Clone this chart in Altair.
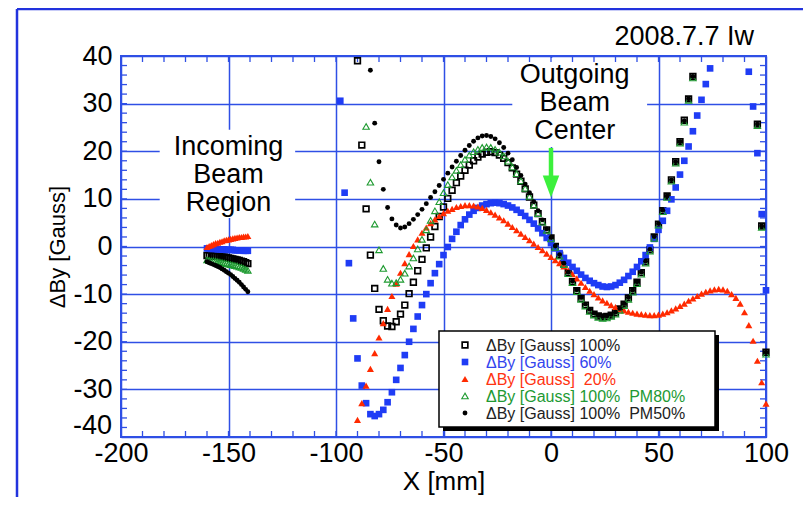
import altair as alt
import pandas as pd

# ---------------- data ----------------
X_MAIN = [-100, -98, -96, -94, -92, -90, -88, -86, -84, -82, -80, -78, -76, -74, -72, -70,
          -68, -66, -64, -62, -60, -58, -56, -54, -52, -50, -48, -46, -44, -42, -40, -38,
          -36, -34, -32, -30, -28, -26, -24, -22, -20, -18, -16, -14, -12, -10, -8, -6,
          -4, -2, 0, 2, 4, 6, 8, 10, 12, 14, 16, 18, 20, 22, 24, 26, 28, 30, 32, 34, 36,
          38, 40, 42, 44, 46, 48, 50, 52, 54, 56, 58, 60, 62, 64, 66, 68, 70, 72, 74, 76,
          78, 80, 82, 84, 86, 88, 90, 92, 94, 96, 98, 100]
N = None
Y_100 = [N, N, N, N, N, 39.0, 21.3, 7.9, -1.8, -8.8, -13.2, -15.6, -16.7, -16.8, -15.8, -14.2,
         -12.3, -9.9, -7.5, -5.1, -2.7, -0.3, 2.0, 4.2, 6.3, 8.3, 10.1, 11.8, 13.4, 14.8, 16.0, 17.1,
         18.0, 18.8, 19.4, 19.8, 19.9, 19.7, 19.2, 18.5, 17.6, 16.5, 15.2, 13.7, 12.1, 10.4, 8.7, 6.9,
         5.2, 3.5, 1.8, 0.0, -1.8, -3.6, -5.5, -7.4, -9.3, -10.9, -12.3, -13.4, -14.2, -14.6, -14.8,
         -14.7, -14.4, -13.9, -13.1, -12.1, -10.8, -9.3, -7.5, -5.5, -3.2, -0.7, 2.0, 4.7, 7.5, 10.6,
         14.0, 17.8, 22.0, 26.5, 31.0, 35.7, N, N, N, N, N, N, N, N, N, N, N, N, N, N, 25.7, 4.3, -22.2]
Y_60 = [N, 30.6, 11.3, -3.5, -15.1, -23.5, -29.2, -32.9, -35.2, -35.6, -35.2, -34.3, -32.7, -30.6,
        -28.0, -25.5, -22.8, -20.0, -17.3, -14.7, -12.3, -10.0, -7.7, -5.6, -3.7, -1.8, -0.1, 1.6,
        3.1, 4.5, 5.7, 6.7, 7.5, 8.1, 8.6, 8.9, 9.1, 9.2, 9.1, 8.9, 8.6, 8.2, 7.7, 7.1, 6.4, 5.6,
        4.8, 3.8, 2.8, 1.8, 0.7, -0.4, -1.4, -2.4, -3.4, -4.3, -5.1, -5.9, -6.6, -7.2, -7.7, -8.1,
        -8.4, -8.5, -8.4, -8.1, -7.6, -7.0, -6.2, -5.3, -4.3, -3.1, -1.8, -0.2, 1.6, 3.5, 5.4, 7.5,
        9.9, 12.4, 15.1, 18.0, 21.0, 24.2, 27.5, 30.8, 34.1, 37.4, N, N, N, N, N, N, N, N,
        36.7, 29.4, 19.6, 6.8, -9.2]
Y_20 = [N, N, N, N, N, -36.4, -32.9, -29.2, -25.7, -22.4, -19.1, -16.1, -13.1, -10.4, -7.8, -5.5,
        -3.5, -1.6, 0.1, 1.5, 2.9, 4.0, 4.9, 5.7, 6.4, 7.0, 7.5, 7.9, 8.3, 8.5, 8.7, 8.7, 8.6, 8.4,
        8.1, 7.7, 7.2, 6.7, 6.1, 5.5, 4.8, 4.1, 3.4, 2.7, 2.0, 1.3, 0.6, -0.1, -0.8, -1.5, -2.2,
        -2.9, -3.5, -4.2, -5.0, -5.8, -6.7, -7.6, -8.5, -9.3, -10.0, -10.7, -11.3, -11.8, -12.3,
        -12.7, -13.1, -13.4, -13.7, -13.9, -14.1, -14.2, -14.3, -14.4, -14.4, -14.3, -14.1, -13.8,
        -13.4, -13.0, -12.5, -12.0, -11.4, -10.9, -10.4, -9.9, -9.5, -9.2, -9.0, -8.9, -9.0, -9.3,
        -10.0, -10.8, -12.0, -13.8, -16.5, -19.8, -24.0, -28.5, -33.0]
Y_PM80 = [N, N, N, N, N, N, N, 25.2, 13.5, 4.7, -0.7, -4.6, -6.9, -7.7, -7.6, -6.9, -5.6, -4.1,
          -2.4, -0.5, 1.5, 3.5, 5.5, 7.5, 9.4, 11.3, 13.0, 14.6, 16.0, 17.2, 18.3, 19.2, 19.9, 20.4,
          20.8, 20.9, 20.8, 20.4, 19.8, 19.0, 17.9, 16.7, 15.3, 13.8, 12.2, 10.5, 8.7, 6.9, 5.1, 3.4,
          1.6, -0.2, -2.0, -3.8, -5.7, -7.6, -9.5, -11.1, -12.5, -13.6, -14.4, -14.9, -15.1, -15.0,
          -14.7, -14.2, -13.4, -12.4, -11.1, -9.6, -7.8, -5.8, -3.5, -1.0, 1.7, 4.5, 7.3, 10.3, 13.7,
          17.5, 21.7, 26.1, 30.7, 35.4, N, N, N, N, N, N, N, N, N, N, N, N, N, N, 25.4, 4.0, -22.6]
Y_PM50 = [N, N, N, N, N, N, N, N, 37.0, 25.9, 17.8, 12.0, 8.2, 5.8, 4.5, 3.9, 4.1, 4.8, 5.7, 6.7,
          7.8, 9.0, 10.3, 11.5, 12.8, 14.1, 15.4, 16.7, 17.9, 19.1, 20.2, 21.2, 22.1, 22.8, 23.2,
          23.3, 23.1, 22.6, 21.8, 20.8, 19.6, 18.2, 16.6, 14.9, 13.1, 11.3, 9.4, 7.5, 5.6, 3.7, 1.9,
          0.1, -1.7, -3.5, -5.4, -7.3, -9.1, -10.7, -12.1, -13.2, -14.0, -14.5, -14.7, -14.6, -14.3,
          -13.8, -13.0, -12.0, -10.7, -9.2, -7.4, -5.4, -3.1, -0.6, 2.1, 4.8, 7.6, 10.6, 14.0, 17.8,
          22.0, 26.4, 31.0, 35.7, N, N, N, N, N, N, N, N, N, N, N, N, N, N, 25.7, 4.3, -22.2]

# incoming beam region
X_IN = [-160, -159, -158, -157, -156, -155, -154, -153, -152, -151,
        -150, -149, -148, -147, -146, -145, -144, -143, -142, -141]
IN_100 = [-1.9, -1.9, -2.0, -2.0, -2.0, -2.1, -2.1, -2.2, -2.2, -2.3,
          -2.4, -2.5, -2.6, -2.7, -2.8, -2.9, -3.1, -3.2, -3.4, -3.6]
IN_60 = [-0.4, -0.4, -0.5, -0.5, -0.5, -0.6, -0.6, -0.6, -0.6, -0.7,
         -0.7, -0.7, -0.7, -0.8, -0.8, -0.8, -0.8, -0.9, -0.9, -0.9]
IN_20 = [-0.1, 0.1, 0.3, 0.5, 0.7, 0.8, 1.0, 1.1, 1.3, 1.4,
         1.5, 1.6, 1.7, 1.8, 1.9, 2.0, 2.0, 2.1, 2.1, 2.2]
IN_PM80 = [-2.8, -2.9, -3.0, -3.0, -3.1, -3.2, -3.3, -3.4, -3.5, -3.6,
           -3.7, -3.8, -3.9, -4.0, -4.1, -4.3, -4.4, -4.6, -4.8, -5.0]
IN_PM50 = [-3.2, -3.4, -3.6, -3.8, -4.0, -4.2, -4.4, -4.7, -5.0, -5.3,
           -5.6, -5.9, -6.3, -6.7, -7.1, -7.5, -8.0, -8.5, -9.0, -9.5]

SERIES = ["100", "60", "20", "PM80", "PM50"]
LEGEND_TEXT = ["ΔBy [Gauss] 100%", "ΔBy [Gauss] 60%", "ΔBy [Gauss]\u00a0\u00a020%",
               "ΔBy [Gauss] 100%\u00a0\u00a0PM80%", "ΔBy [Gauss] 100%\u00a0\u00a0PM50%"]

X_TICKS = [-200, -150, -100, -50, 0, 50, 100]
Y_TICKS = [-40, -30, -20, -10, 0, 10, 20, 30, 40]
Y_LABELED = [-30, -20, -10, 0, 10, 20, 30, 40]
X_MINOR = list(range(-190, 100, 10))
Y_MINOR = list(range(-38, 40, 2))

ANNOT_TEXT = ["Incoming", "Beam", "Region", "Outgoing", "Beam", "Center", "2008.7.7 Iw"]
ANNOT_X = [-150, -150, -150, 11, 11, 11, 62]
ANNOT_Y = [19.2, 13.4, 7.5, 34.3, 28.5, 22.6, 42.3]

# ---------------- styling ----------------
FONT = "Liberation Sans"
GRID = "#2f4fe5"
BLUE = "#1f3cf5"
RED = "#ff2a00"
GREEN = "#1e9a30"
ARROW = "#3cf03c"
W, H = 645, 381

main_y = dict(zip(SERIES, [Y_100, Y_60, Y_20, Y_PM80, Y_PM50]))
in_y = dict(zip(SERIES, [IN_100, IN_60, IN_20, IN_PM80, IN_PM50]))
rows = []
for s in SERIES:
    for xv, yv in zip(X_MAIN, main_y[s]):
        if yv is not None:
            rows.append({"x": xv, "y": yv, "s": s})
    for xv, yv in zip(X_IN, in_y[s]):
        rows.append({"x": xv, "y": yv, "s": s})
df = pd.DataFrame(rows)

xs = alt.Scale(domain=[-200, 100], nice=False, zero=False)
ysc = alt.Scale(domain=[-40, 40], nice=False, zero=False)

x_axis = alt.Axis(values=X_TICKS, grid=True, gridColor=GRID, gridWidth=1.5, gridOpacity=1,
                  ticks=False, tickSize=0, domain=False, labelFontSize=27, labelColor="black",
                  labelFont=FONT, labelPadding=3, labelFlush=False, labelOverlap=False,
                  labelExpr="'' + datum.value", title="X [mm]", titleFontSize=26,
                  titleFont=FONT, titleFontWeight="normal", titleColor="black", titlePadding=2)
y_axis = alt.Axis(values=Y_TICKS, grid=True, gridColor=GRID, gridWidth=1.5, gridOpacity=1,
                  ticks=False, tickSize=0, domain=False, labelFontSize=27, labelColor="black",
                  labelFont=FONT, labelPadding=9, labelFlush=False, labelOverlap=False,
                  labelExpr="datum.value == -40 ? '' : '' + datum.value",
                  title="ΔBy [Gauss]", titleFontSize=22,
                  titleFont=FONT, titleFontWeight="normal", titleColor="black", titlePadding=3)


def X(f):
    return alt.X(f"{f}:Q", scale=xs, axis=x_axis)


def Y(f):
    return alt.Y(f"{f}:Q", scale=ysc, axis=y_axis)


layers = []

# white boxes behind annotation text (interrupt grid lines)
boxes = pd.DataFrame({"x": [-182, -18], "x2": [-119, 44.7], "y": [24.5, 39.6], "y2": [6.0, 20.9]})
layers.append(alt.Chart(boxes).mark_rect(color="white", opacity=1).encode(
    x=X("x"), x2="x2:Q", y=Y("y"), y2="y2:Q"))

# minor ticks
xt = pd.DataFrame({"t": X_MINOR})
yt = pd.DataFrame({"t": Y_MINOR})
for a, b in [(0, 6), (H, H - 6)]:
    layers.append(alt.Chart(xt).mark_rule(color=GRID, strokeWidth=1.3).encode(
        x=X("t"), y=alt.value(a), y2=alt.value(b)))
for a, b in [(0, 6), (W, W - 6)]:
    layers.append(alt.Chart(yt).mark_rule(color=GRID, strokeWidth=1.3).encode(
        y=Y("t"), x=alt.value(a), x2=alt.value(b)))

# bottom y label placed just above the x labels
lab = pd.DataFrame({"y": [-40], "t": ["-40"]})
layers.append(alt.Chart(lab).mark_text(align="right", baseline="bottom", font=FONT, fontSize=27,
                                       color="black", dy=3).encode(
    x=alt.value(-9), y=Y("y"), text="t:N"))

STYLE = {
    "100": dict(shape="square", size=32, filled=False, color="black", strokeWidth=1.7),
    "60": dict(shape="square", size=44, filled=True, color=BLUE),
    "20": dict(shape="triangle-up", size=50, filled=True, color=RED),
    "PM80": dict(shape="triangle-up", size=42, filled=False, color=GREEN, strokeWidth=1.1),
    "PM50": dict(shape="circle", size=24, filled=True, color="black"),
}
for s in SERIES:
    layers.append(alt.Chart(df).transform_filter(alt.datum.s == s).mark_point(
        opacity=1, **STYLE[s]).encode(x=X("x"), y=Y("y")))

# legend box
one = pd.DataFrame({"a": [0]})
layers.append(alt.Chart(one).mark_rect(color="black").encode(
    x=alt.value(322), x2=alt.value(598), y=alt.value(279), y2=alt.value(375)))
layers.append(alt.Chart(one).mark_rect(fill="white", stroke="black", strokeWidth=1.5).encode(
    x=alt.value(318), x2=alt.value(594), y=alt.value(275), y2=alt.value(371)))
TEXT_COL = ["#222222", "#3344ee", "#ff3311", "#229933", "#222222"]
for i, s in enumerate(SERIES):
    ry = 289.0 + 17.0 * i
    layers.append(alt.Chart(one).mark_point(opacity=1, **STYLE[s]).encode(
        x=alt.value(344), y=alt.value(ry)))
    layers.append(alt.Chart(one).mark_text(text=LEGEND_TEXT[i], align="left", baseline="middle",
                                           font=FONT, fontSize=16, color=TEXT_COL[i]).encode(
        x=alt.value(365), y=alt.value(ry + 1)))

# annotation texts
ann = pd.DataFrame({"x": ANNOT_X, "y": ANNOT_Y, "t": ANNOT_TEXT})
layers.append(alt.Chart(ann).mark_text(align="center", baseline="alphabetic", font=FONT,
                                       fontSize=27, color="black").encode(
    x=X("x"), y=Y("y"), text="t:N"))

# green arrow
arr = pd.DataFrame({"x": [0], "y": [20.7], "y2": [14.2], "yh": [12.6]})
layers.append(alt.Chart(arr).mark_rule(color=ARROW, strokeWidth=4.5).encode(
    x=X("x"), y=Y("y"), y2="y2:Q"))
layers.append(alt.Chart(arr).mark_point(shape="M -0.75 -1 L 0.75 -1 L 0 1 Z", size=484,
                                        filled=True, color=ARROW, opacity=1).encode(
    x=X("x"), y=Y("yh")))

# outer figure frame
layers.append(alt.Chart(one).mark_rule(color="#2233dd", strokeWidth=2.5).encode(
    x=alt.value(-104), y=alt.value(-47), y2=alt.value(449)))
layers.append(alt.Chart(one).mark_rule(color="#2233dd", strokeWidth=2.5).encode(
    x=alt.value(-104), x2=alt.value(690), y=alt.value(-47)))

chart = alt.layer(*layers).properties(
    width=W, height=H,
    padding={"left": 113, "top": 48, "right": 37, "bottom": 60},
    autosize=alt.AutoSizeParams(type="none"),
).configure_view(stroke=GRID, strokeWidth=2)

chart.save("out.html", embed_options={"renderer": "svg", "actions": False})
